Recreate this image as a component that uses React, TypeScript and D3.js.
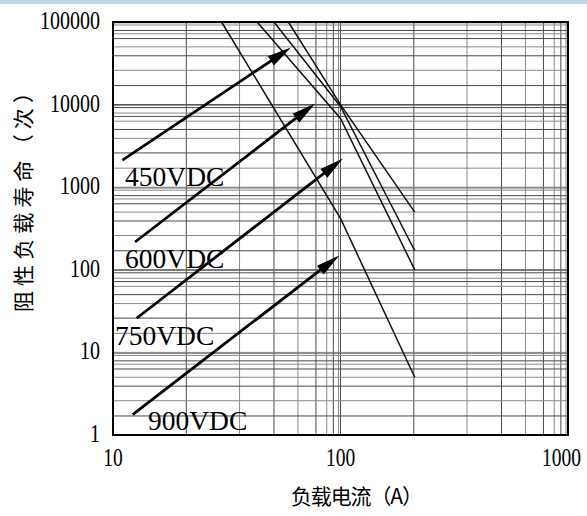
import React from 'react';
import * as d3 from 'd3';

const X_TICKS = [10, 100, 1000];
const Y_TICKS = [1, 10, 100, 1000, 10000, 100000];
const X_DECADES = [10, 100];
const Y_DECADES = [1, 10, 100, 1000, 10000];
const X_MINOR = [2.1, 3.6, 5.1, 6.5, 7.8, 8.7, 9.3, 9.8];
const Y_MINOR = [1.7, 2.6, 3.9, 5, 6.3, 7.2, 7.9, 9.2, 9.8];

const SERIES = ['900VDC', '750VDC', '600VDC', '450VDC'];
const CURVE_900: [number, number][] = [[30, 100000], [100, 420], [212, 5]];
const CURVE_750: [number, number][] = [[43, 100000], [100, 6800], [212, 100]];
const CURVE_600: [number, number][] = [[51, 100000], [100, 9500], [212, 170]];
const CURVE_450: [number, number][] = [[59, 100000], [100, 10000], [212, 500]];

const ARROW_900: [number, number][] = [[12.2, 1.77], [98.8, 149]];
const ARROW_750: [number, number][] = [[12.7, 25.9], [102.5, 2220]];
const ARROW_600: [number, number][] = [[12.5, 217], [77.3, 10300]];
const ARROW_450: [number, number][] = [[11, 2130], [60.5, 49000]];

const LABEL_900: [number, number] = [14.25, 1.15];
const LABEL_750: [number, number] = [10.2, 12.3];
const LABEL_600: [number, number] = [11.3, 105];
const LABEL_450: [number, number] = [11.3, 1034];

const X_TITLE = '负载电流（A）';
const Y_TITLE = '阻性负载寿命（次）';

const W = 587;
const H = 516;
const PL = 113, PR = 568, PT = 22, PB = 435;
const SERIF = "'Liberation Serif', 'Times New Roman', serif";

export default function App() {
  const x = d3.scaleLog().domain([10, 1000]).range([PL, PR]);
  const y = d3.scaleLog().domain([1, 100000]).range([PB, PT]);
  const line = d3.line<[number, number]>().x(d => x(d[0])).y(d => y(d[1]));

  const xGrid: number[] = [];
  X_DECADES.forEach(d => X_MINOR.forEach(m => xGrid.push(d * m)));
  xGrid.push(100);
  const yGrid: number[] = [];
  Y_DECADES.forEach(d => Y_MINOR.forEach(m => yGrid.push(d * m)));
  Y_DECADES.slice(1).forEach(d => yGrid.push(d));

  const curves = [CURVE_900, CURVE_750, CURVE_600, CURVE_450];
  const arrows = [ARROW_900, ARROW_750, ARROW_600, ARROW_450];
  const labels = [LABEL_900, LABEL_750, LABEL_600, LABEL_450];

  const arrowHead = (a: [number, number][]) => {
    const x1 = x(a[0][0]), y1 = y(a[0][1]);
    const x2 = x(a[1][0]), y2 = y(a[1][1]);
    const ang = Math.atan2(y2 - y1, x2 - x1);
    const L = 24, hw = 5.5;
    const bx = x2 - L * Math.cos(ang), by = y2 - L * Math.sin(ang);
    const px = -Math.sin(ang) * hw, py = Math.cos(ang) * hw;
    return {
      shaft: `M${x1},${y1}L${bx + 2 * Math.cos(ang)},${by + 2 * Math.sin(ang)}`,
      head: `M${x2},${y2}L${bx + px},${by + py}L${bx - px},${by - py}Z`,
    };
  };

  return (
    <svg width={W} height={H} style={{ position: 'absolute', left: 0, top: 0, background: '#fff' }}>
      <rect x={0} y={0} width={W} height={4} fill="#bdd7ee" />
      <g>
        {xGrid.map((v, i) => (
          <line key={'xg' + i} x1={x(v)} x2={x(v)} y1={PT} y2={PB}
            stroke={i % 2 === 0 ? '#4a4a4a' : '#8a8a8a'} strokeWidth={1} />
        ))}
        {yGrid.map((v, i) => (
          <line key={'yg' + i} x1={PL} x2={PR} y1={y(v)} y2={y(v)}
            stroke={i % 2 === 0 ? '#4a4a4a' : '#8a8a8a'} strokeWidth={1} />
        ))}
      </g>
      <rect x={PL} y={PT} width={PR - PL} height={PB - PT} fill="none" stroke="#000" strokeWidth={2} />
      {curves.map((c, i) => (
        <path key={'c' + i} d={line(c) || ''} fill="none" stroke="#111" strokeWidth={1.5} />
      ))}
      {arrows.map((a, i) => {
        const ah = arrowHead(a);
        return (
          <g key={'a' + i}>
            <path d={ah.shaft} stroke="#000" strokeWidth={2.8} fill="none" />
            <path d={ah.head} fill="#000" />
          </g>
        );
      })}
      {labels.map((l, i) => (
        <text key={'l' + i} x={x(l[0])} y={y(l[1])} fontFamily={SERIF}
          fontSize={27.5} fill="#000">{SERIES[i]}</text>
      ))}
      {Y_TICKS.map(v => {
        const s = String(v);
        return (
          <text key={'yt' + v} transform={`translate(100,${y(v) + 7}) scale(0.8,1)`} textAnchor="end"
            fontFamily={SERIF} fontSize={25} fill="#000">{s}</text>
        );
      })}
      {X_TICKS.map(v => {
        const s = String(v);
        const w = s.length * 9.7;
        const cx = Math.min(x(v), W - 6 - w / 2);
        return (
          <text key={'xt' + v} transform={`translate(${cx},466) scale(0.75,1)`} textAnchor="middle"
            fontFamily={SERIF} fontSize={26} fill="#000">{s}</text>
        );
      })}
      <text x={291} y={504} fontFamily="'Noto Sans CJK SC', sans-serif" fontSize={21} fill="#000"
        textLength={132} lengthAdjust="spacing">{X_TITLE}</text>
      <text transform="translate(31,197) rotate(-90)" textAnchor="middle"
        fontFamily="'Noto Sans CJK SC', sans-serif" fontSize={21} fill="#000"
        textLength={230} lengthAdjust="spacing">{Y_TITLE}</text>
    </svg>
  );
}
